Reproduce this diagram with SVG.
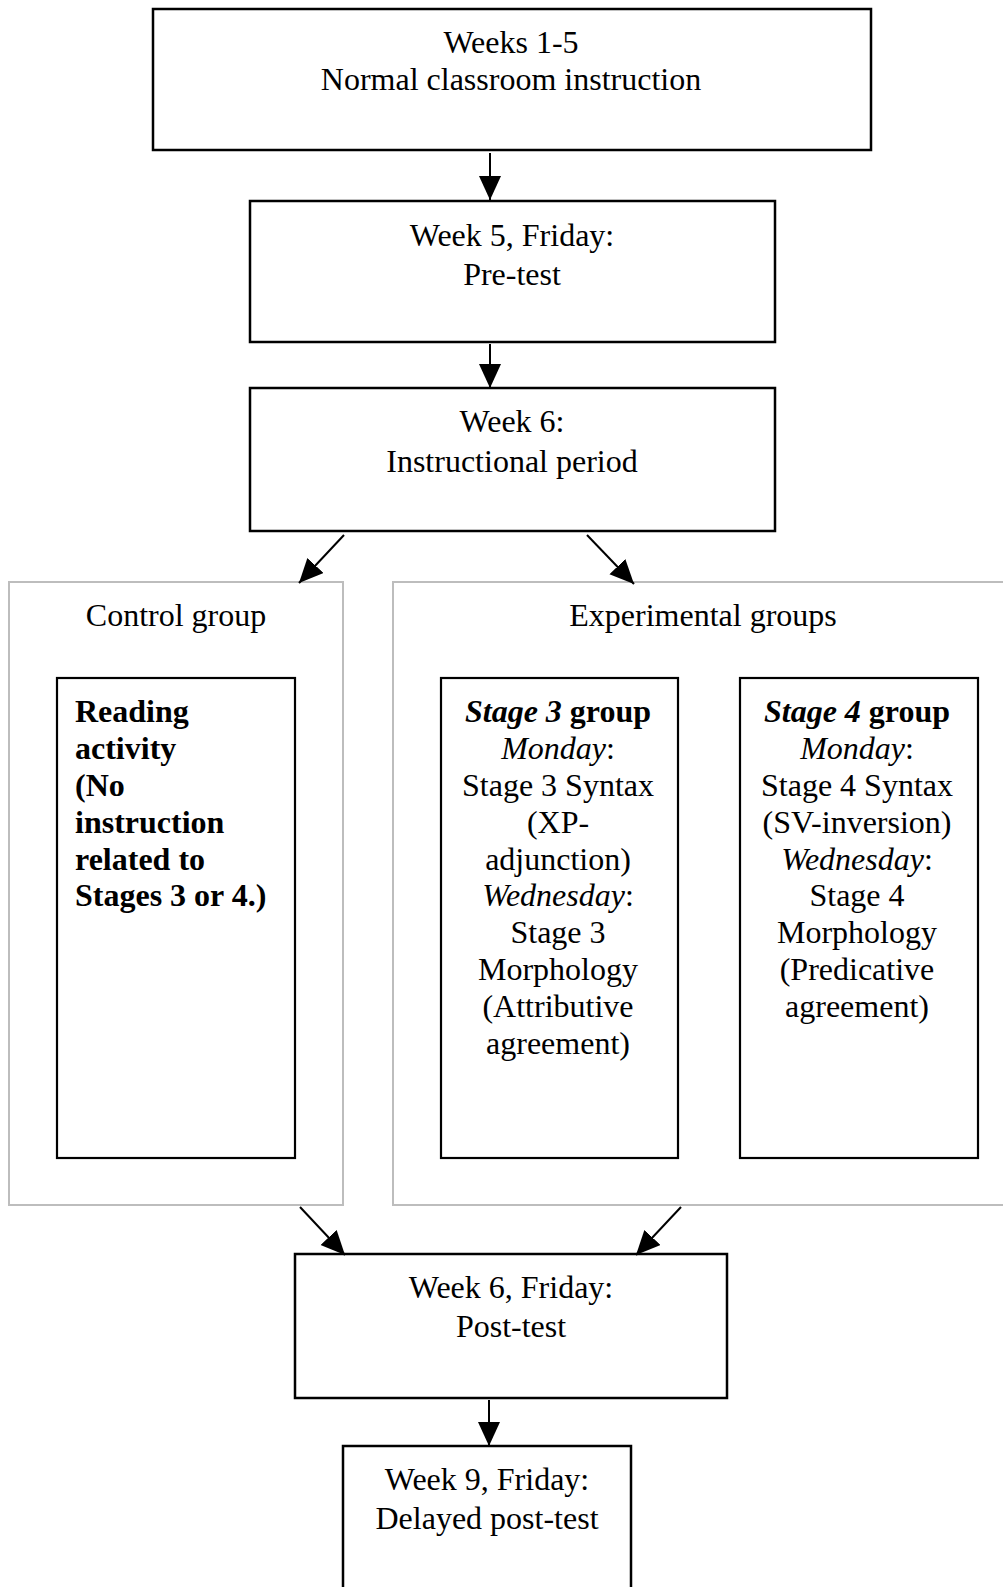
<svg xmlns="http://www.w3.org/2000/svg" width="1003" height="1587" viewBox="0 0 1003 1587">
<defs>
<style>
.box{fill:#fff;stroke:#000;stroke-width:2.5}
.inner{fill:#fff;stroke:#000;stroke-width:2.2}
.cont{fill:#fff;stroke:#bdbdbd;stroke-width:2}
.t{font-family:"Liberation Serif","Times New Roman",serif;font-size:32px;fill:#000}
.c{text-anchor:middle}
.b{font-weight:bold}
.i{font-style:italic}
.conn line{stroke:#000;stroke-width:2}
</style>
<marker id="ah" markerWidth="26" markerHeight="24" refX="24" refY="11" orient="auto" markerUnits="userSpaceOnUse">
<path d="M0,0 L24,11 L0,22 Z" fill="#000"/>
</marker>
</defs>
<rect width="1003" height="1587" fill="#fff"/>

<g id="n-weeks1-5">
<rect class="box" x="153" y="9" width="718" height="141"/>
<text class="t c" x="511" y="53">Weeks 1-5</text>
<text class="t c" x="511" y="90">Normal classroom instruction</text>
</g>

<g id="n-pretest">
<rect class="box" x="250" y="201" width="525" height="141"/>
<text class="t c" x="512" y="246">Week 5, Friday:</text>
<text class="t c" x="512" y="285">Pre-test</text>
</g>

<g id="n-week6">
<rect class="box" x="250" y="388" width="525" height="143"/>
<text class="t c" x="512" y="432">Week 6:</text>
<text class="t c" x="512" y="472">Instructional period</text>
</g>

<g id="n-control">
<rect class="cont" x="9" y="582" width="334" height="623"/>
<text class="t c" x="176" y="626">Control group</text>
</g>

<g id="n-experimental">
<rect class="cont" x="393" y="582" width="620" height="623"/>
<text class="t c" x="703" y="626">Experimental groups</text>
</g>

<g id="n-reading">
<rect class="inner" x="57" y="678" width="238" height="480"/>
<text class="t b" x="75" y="722">Reading</text>
<text class="t b" x="75" y="759">activity</text>
<text class="t b" x="75" y="796">(No</text>
<text class="t b" x="75" y="833">instruction</text>
<text class="t b" x="75" y="870">related to</text>
<text class="t b" x="75" y="906">Stages 3 or 4.)</text>
</g>

<g id="n-stage3">
<rect class="inner" x="441" y="678" width="237" height="480"/>
<text class="t c" x="558" y="722"><tspan class="b i">Stage 3</tspan><tspan class="b"> group</tspan></text>
<text class="t c" x="558" y="759"><tspan class="i">Monday</tspan>:</text>
<text class="t c" x="558" y="796">Stage 3 Syntax</text>
<text class="t c" x="558" y="833">(XP-</text>
<text class="t c" x="558" y="870">adjunction)</text>
<text class="t c" x="558" y="906"><tspan class="i">Wednesday</tspan>:</text>
<text class="t c" x="558" y="943">Stage 3</text>
<text class="t c" x="558" y="980">Morphology</text>
<text class="t c" x="558" y="1017">(Attributive</text>
<text class="t c" x="558" y="1054">agreement)</text>
</g>

<g id="n-stage4">
<rect class="inner" x="740" y="678" width="238" height="480"/>
<text class="t c" x="857" y="722"><tspan class="b i">Stage 4</tspan><tspan class="b"> group</tspan></text>
<text class="t c" x="857" y="759"><tspan class="i">Monday</tspan>:</text>
<text class="t c" x="857" y="796">Stage 4 Syntax</text>
<text class="t c" x="857" y="833">(SV-inversion)</text>
<text class="t c" x="857" y="870"><tspan class="i">Wednesday</tspan>:</text>
<text class="t c" x="857" y="906">Stage 4</text>
<text class="t c" x="857" y="943">Morphology</text>
<text class="t c" x="857" y="980">(Predicative</text>
<text class="t c" x="857" y="1017">agreement)</text>
</g>

<g id="n-posttest">
<rect class="box" x="295" y="1254" width="432" height="144"/>
<text class="t c" x="511" y="1298">Week 6, Friday:</text>
<text class="t c" x="511" y="1337">Post-test</text>
</g>

<g id="n-delayed">
<rect class="box" x="343" y="1446" width="288" height="200"/>
<text class="t c" x="487" y="1490">Week 9, Friday:</text>
<text class="t c" x="487" y="1529">Delayed post-test</text>
</g>

<g id="connectors" class="conn">
<line x1="490" y1="153" x2="490" y2="200" marker-end="url(#ah)"/>
<line x1="490" y1="344" x2="490" y2="388" marker-end="url(#ah)"/>
<line x1="344" y1="535" x2="299" y2="583" marker-end="url(#ah)"/>
<line x1="587" y1="535" x2="634" y2="584" marker-end="url(#ah)"/>
<line x1="300" y1="1207" x2="345" y2="1255" marker-end="url(#ah)"/>
<line x1="681" y1="1207" x2="636" y2="1255" marker-end="url(#ah)"/>
<line x1="489" y1="1400" x2="489" y2="1446" marker-end="url(#ah)"/>
</g>
</svg>
